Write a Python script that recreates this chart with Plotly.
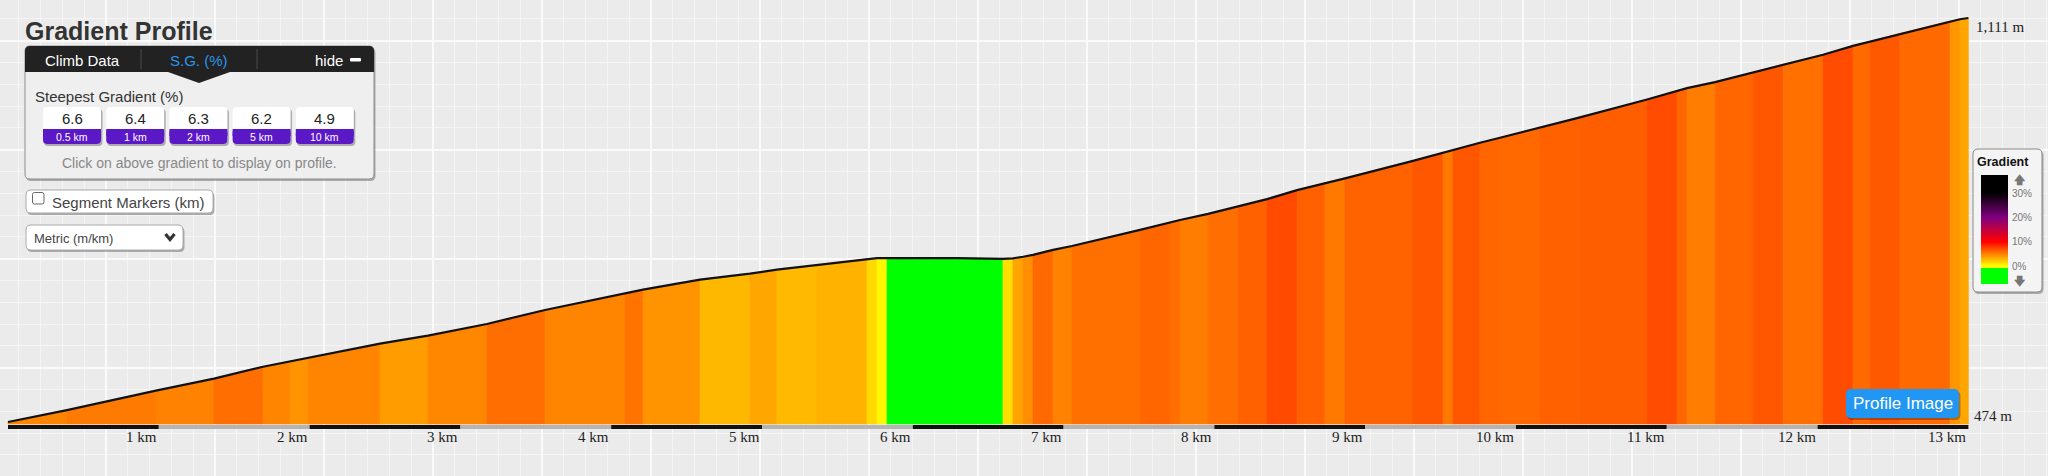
import plotly.graph_objects as go

W, H = 2048, 476
SANS = "Liberation Sans, Arial, sans-serif"
SERIF = "Liberation Serif, Times New Roman, serif"

# profile segments: boundaries in km and gradient (%) of each segment
seg_km = [0, 0.391, 0.981, 1.366, 1.691, 1.870, 1.989, 2.467, 2.785, 3.176,
          3.561, 4.092, 4.211, 4.589, 4.920, 5.099, 5.365, 5.696, 5.763, 5.829,
          6.293, 6.598, 6.664, 6.731, 6.797, 6.930, 7.056, 7.507, 7.706, 7.772,
          7.958, 8.156, 8.349, 8.548, 8.733, 8.866, 9.317, 9.516, 9.582, 9.761,
          9.894, 10.159, 10.424, 10.869, 11.068, 11.134, 11.320, 11.572, 11.771, 12.036,
          12.235, 12.347, 12.546, 12.878, 12.944, 13.0]
seg_grade = [4.8, 5.2, 4.9, 5.7, 4.8, 4.2, 4.8, 3.9, 4.7, 5.7,
             4.8, 5.5, 4.2, 2.8, 3.5, 2.7, 3.0, 1.5, 0.3, 0.0,
             -0.4, 1.3, 3.6, 4.4, 5.9, 4.9, 5.6, 6.0, 5.7, 5.1,
             5.7, 6.2, 7.1, 6.2, 5.3, 6.1, 6.6, 5.3, 6.6, 6.0,
             5.9, 6.2, 6.3, 7.0, 6.0, 5.1, 6.0, 6.6, 5.6, 7.0,
             5.9, 6.5, 5.9, 4.1, 3.5]
start_elev = 474
top_label = "1,111 m"
base_label = "474 m"

km_ticks = list(range(1, 14))

sg_values = ["6.6", "6.4", "6.3", "6.2", "4.9"]
sg_lengths = ["0.5 km", "1 km", "2 km", "5 km", "10 km"]
legend_ticks = [30, 20, 10, 0]

# colour stops for gradient (%)
stops = [(0, (255, 255, 0)), (10, (255, 0, 0)), (20, (128, 0, 128)), (30, (0, 0, 0))]


def grade_color(g):
    if g <= 0:
        return "#00ff00"
    if g >= stops[-1][0]:
        return "rgb(0,0,0)"
    for (a, ca), (b, cb) in zip(stops[:-1], stops[1:]):
        if a <= g <= b:
            t = (g - a) / (b - a)
            c = [round(ca[k] + (cb[k] - ca[k]) * t) for k in range(3)]
            return "rgb(%d,%d,%d)" % tuple(c)


# elevation at each boundary
elev = [start_elev]
for i, g in enumerate(seg_grade):
    elev.append(elev[-1] + g * (seg_km[i + 1] - seg_km[i]) * 10)

# pixel scale of the drawing
px_per_km = 150.8
x0_px = 8
m_per_px = 1.5728
base_px = 422
x_lo = -x0_px / px_per_km
x_hi = (W - x0_px) / px_per_km
y_lo = start_elev - (H - base_px) * m_per_px
y_hi = start_elev + base_px * m_per_px
base_elev = start_elev - 2 * m_per_px


def X(px):
    return px / W


def Y(py):
    return 1 - py / H


def elev_at_px(py):
    return start_elev + (base_px - py) * m_per_px


fig = go.Figure()

# coloured gradient bands
for i, g in enumerate(seg_grade):
    xa, xb = seg_km[i], seg_km[i + 1]
    col = grade_color(g)
    fig.add_trace(go.Scatter(
        x=[xa, xa, xb, xb, xa], y=[base_elev, elev[i], elev[i + 1], base_elev, base_elev],
        mode="lines", fill="toself", fillcolor=col, line=dict(color=col, width=0.6),
        hoverinfo="skip"))

# profile outline
fig.add_trace(go.Scatter(x=seg_km, y=elev, mode="lines",
                         line=dict(color="#111111", width=2.2), hoverinfo="skip"))

shapes = []
annotations = []


def rr_path(x0, y0, x1, y1, r):
    return ("M {a},{b} L {c},{b} Q {d},{b} {d},{e} L {d},{f} Q {d},{g} {c},{g} "
            "L {a},{g} Q {h},{g} {h},{f} L {h},{e} Q {h},{b} {a},{b} Z").format(
        a=X(x0 + r), b=Y(y0), c=X(x1 - r), d=X(x1), e=Y(y0 + r), f=Y(y1 - r),
        g=Y(y1), h=X(x0))


def rrect(x0, y0, x1, y1, r, fill, line=None, lw=0, shadow=False):
    if shadow:
        shapes.append(dict(type="path", xref="paper", yref="paper", layer="above",
                           path=rr_path(x0 + 1, y0 + 2, x1 + 1.5, y1 + 2, r),
                           fillcolor="rgba(0,0,0,0.28)", line=dict(width=0)))
    shapes.append(dict(type="path", xref="paper", yref="paper", layer="above",
                       path=rr_path(x0, y0, x1, y1, r), fillcolor=fill,
                       line=dict(color=line or fill, width=lw)))


def rect(x0, y0, x1, y1, fill):
    shapes.append(dict(type="rect", xref="paper", yref="paper", layer="above",
                       x0=X(x0), x1=X(x1), y0=Y(y1), y1=Y(y0), fillcolor=fill,
                       line=dict(width=0)))


def text(px, py, s, size, color, anchor="left", family=SANS, bold=False):
    if bold:
        s = "<b>" + s + "</b>"
    annotations.append(dict(x=X(px), y=Y(py), xref="paper", yref="paper", text=s,
                            showarrow=False, xanchor=anchor, yanchor="middle",
                            font=dict(family=family, size=size, color=color)))


# km bar under the profile
for k in range(len(km_ticks)):
    shapes.append(dict(type="rect", xref="x", yref="y", layer="above",
                       x0=k, x1=km_ticks[k], y0=elev_at_px(429), y1=elev_at_px(425),
                       fillcolor="#111111" if k % 2 == 0 else "#b4b4b4", line=dict(width=0)))
for k in km_ticks:
    annotations.append(dict(x=k, y=elev_at_px(437), xref="x", yref="y", text="%d km" % k,
                            showarrow=False, xanchor="right", yanchor="middle",
                            font=dict(family=SERIF, size=15, color="#222222")))

# elevation labels
text(1972, 416, base_label, 15, "#222222", family=SERIF)
text(1974, 27, top_label, 15, "#222222", family=SERIF)

# title
text(23, 31, "Gradient Profile", 25, "#333333", bold=True)

# climb data panel
rrect(25, 46, 374, 179, 5, "#efefef", line="#8c8c8c", lw=1, shadow=True)
rrect(25, 46, 374, 72, 5, "#222222")
rect(25, 62, 374, 72, "#222222")
shapes.append(dict(type="path", xref="paper", yref="paper", layer="above",
                   path="M {},{} L {},{} L {},{} Z".format(X(168), Y(72), X(230), Y(72), X(199), Y(83)),
                   fillcolor="#222222", line=dict(width=0)))
for sx in [141, 257]:
    shapes.append(dict(type="line", xref="paper", yref="paper", layer="above",
                       x0=X(sx), x1=X(sx), y0=Y(49), y1=Y(69), line=dict(color="#4a4a4a", width=1)))
text(82, 60, "Climb Data", 15, "#ffffff", anchor="center")
text(199, 60, "S.G. (%)", 15, "#2b95ee", anchor="center")
text(329, 60, "hide", 15, "#ffffff", anchor="center")
rrect(350, 58, 361, 61.5, 1, "#ffffff")

text(33, 97, "Steepest Gradient (%)", 15, "#333333")
for i, (v, lab) in enumerate(zip(sg_values, sg_lengths)):
    bx = 43 + i * 63.2
    rrect(bx, 107, bx + 58, 144, 4, "#ffffff", shadow=True)
    rrect(bx, 129, bx + 58, 144, 4, "#5a18c6")
    rect(bx, 129, bx + 58, 136, "#5a18c6")
    text(bx + 29, 118.5, v, 15, "#222222", anchor="center")
    text(bx + 29, 137, lab, 10.5, "#ffffff", anchor="center")
text(199, 163, "Click on above gradient to display on profile.", 14, "#888888", anchor="center")

# segment markers button
rrect(26, 190, 213, 213, 5, "#ffffff", line="#aaaaaa", lw=1, shadow=True)
rrect(32.5, 192.5, 44, 204, 2, "#ffffff", line="#666666", lw=1)
text(50, 202, "Segment Markers (km)", 15, "#444444")

# units dropdown
rrect(26, 225, 183, 250, 5, "#ffffff", line="#aaaaaa", lw=1, shadow=True)
text(32, 238, "Metric (m/km)", 13, "#444444")
shapes.append(dict(type="path", xref="paper", yref="paper", layer="above",
                   path="M {},{} L {},{} L {},{}".format(X(165.5), Y(234), X(170), Y(239.5), X(174.5), Y(234)),
                   line=dict(color="#333333", width=3.2)))

# gradient legend
rrect(1973, 149, 2042, 292, 5, "#f4f4f4", line="#8a8a8a", lw=1, shadow=True)
text(1975, 162, "Gradient", 12.5, "#111111", bold=True)
for row in range(175, 268):
    pct = (266 - (row + 0.5)) / 2.43
    rect(1981, row, 2008, row + 1.2, grade_color(max(pct, 0.01)))
rect(1981, 268, 2008, 284, "#00ff00")
for t in legend_ticks:
    text(2010, 266 - t * 2.43, "%d%%" % t, 10, "#777777")
text(2020, 180, "<b>🡅</b>", 11, "#777777", anchor="center", family="DejaVu Sans")
text(2020, 281, "<b>🡇</b>", 11, "#777777", anchor="center", family="DejaVu Sans")

# profile image button
rrect(1846, 389, 1959, 418, 5, "#2196f3", shadow=True)
text(1902.5, 403, "Profile Image", 17, "#ffffff", anchor="center")

fig.update_layout(
    width=W, height=H, margin=dict(l=0, r=0, t=0, b=0),
    paper_bgcolor="#ebebeb", plot_bgcolor="#ebebeb", showlegend=False,
    shapes=shapes, annotations=annotations,
    xaxis=dict(range=[x_lo, x_hi], showticklabels=False, ticks="", zeroline=False,
               showgrid=True, gridcolor="#fafafa", gridwidth=1.8,
               tick0=(106 - x0_px) / px_per_km, dtick=109 / px_per_km,
               minor=dict(showgrid=True, gridcolor="#f5f5f5", gridwidth=1.3,
                          tick0=(106 - x0_px) / px_per_km, dtick=109 / px_per_km / 5)),
    yaxis=dict(range=[y_lo, y_hi], showticklabels=False, ticks="", zeroline=False,
               showgrid=True, gridcolor="#fafafa", gridwidth=1.8,
               tick0=elev_at_px(40.7), dtick=109 * m_per_px,
               minor=dict(showgrid=True, gridcolor="#f5f5f5", gridwidth=1.3,
                          tick0=elev_at_px(40.7), dtick=109 * m_per_px / 5)),
)

fig.write_html("out.html", config={"displayModeBar": False},
               post_script="document.body.style.margin='0';document.body.style.overflow='hidden';")
